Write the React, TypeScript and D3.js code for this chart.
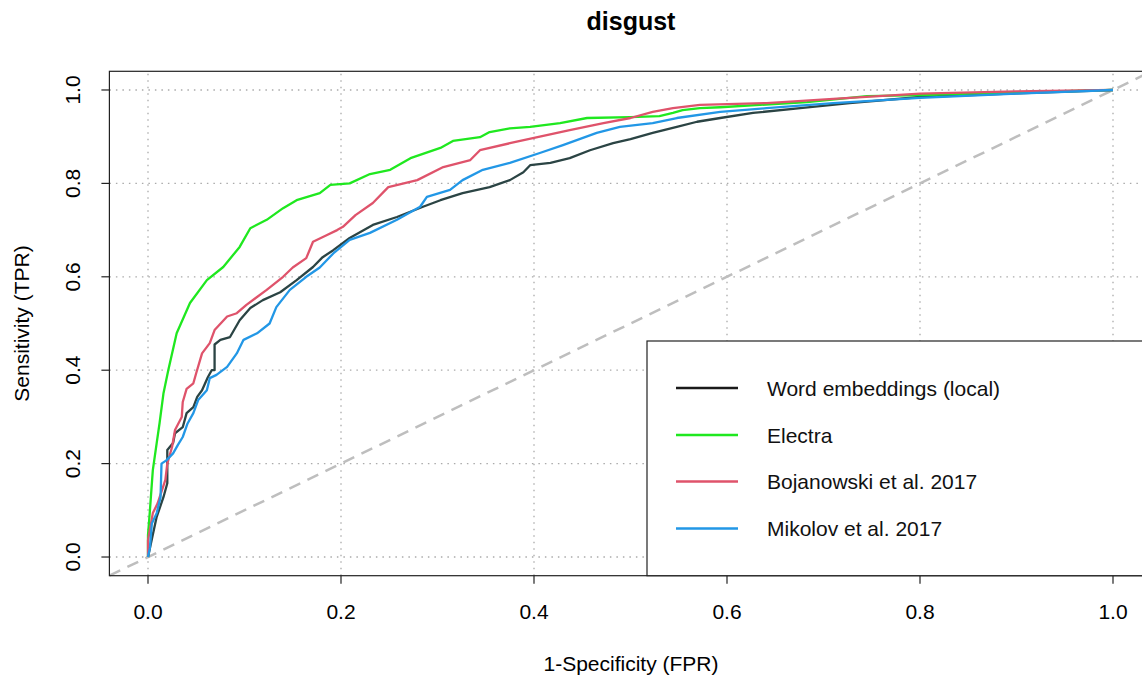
import React from "react";
import * as d3 from "d3";

const W = 1142;
const H = 683;

const title = "disgust";
const xLabel = "1-Specificity (FPR)";
const yLabel = "Sensitivity (TPR)";
const ticks = [0, 0.2, 0.4, 0.6, 0.8, 1.0];

const localFpr = [0, 0.009, 0.016, 0.02, 0.02, 0.026, 0.028, 0.036, 0.04, 0.047, 0.051, 0.056, 0.062, 0.066, 0.069, 0.069, 0.075, 0.085, 0.095, 0.106, 0.119, 0.137, 0.154, 0.171, 0.181, 0.192, 0.209, 0.233, 0.258, 0.285, 0.303, 0.326, 0.354, 0.375, 0.389, 0.396, 0.417, 0.437, 0.458, 0.482, 0.5, 0.523, 0.548, 0.569, 0.593, 0.627, 0.676, 0.727, 0.8, 0.9, 1];
const localTpr = [0, 0.086, 0.128, 0.158, 0.229, 0.244, 0.265, 0.278, 0.308, 0.321, 0.343, 0.357, 0.385, 0.4, 0.4, 0.455, 0.465, 0.471, 0.507, 0.533, 0.55, 0.567, 0.593, 0.621, 0.642, 0.657, 0.683, 0.711, 0.728, 0.75, 0.764, 0.779, 0.792, 0.807, 0.824, 0.839, 0.844, 0.854, 0.871, 0.886, 0.895, 0.908, 0.921, 0.932, 0.94, 0.951, 0.961, 0.972, 0.985, 0.993, 1];

const electraFpr = [0, 0, 0.002, 0.005, 0.009, 0.012, 0.016, 0.021, 0.0297, 0.0435, 0.061, 0.078, 0.095, 0.106, 0.123, 0.14, 0.154, 0.178, 0.189, 0.209, 0.23, 0.251, 0.272, 0.303, 0.316, 0.344, 0.354, 0.375, 0.396, 0.427, 0.455, 0.5, 0.53, 0.544, 0.554, 0.572, 0.593, 0.683, 0.745, 0.8, 0.9, 1];
const electraTpr = [0, 0.047, 0.1, 0.186, 0.244, 0.287, 0.35, 0.4, 0.479, 0.544, 0.593, 0.621, 0.664, 0.704, 0.722, 0.747, 0.764, 0.779, 0.797, 0.8, 0.82, 0.829, 0.854, 0.876, 0.891, 0.899, 0.91, 0.918, 0.921, 0.929, 0.94, 0.942, 0.944, 0.951, 0.957, 0.961, 0.963, 0.974, 0.987, 0.989, 0.995, 1];

const bojFpr = [0, 0, 0.005, 0.01, 0.018, 0.02, 0.025, 0.028, 0.035, 0.036, 0.04, 0.047, 0.05, 0.056, 0.064, 0.069, 0.082, 0.092, 0.102, 0.123, 0.14, 0.15, 0.164, 0.171, 0.185, 0.196, 0.202, 0.215, 0.233, 0.249, 0.279, 0.306, 0.334, 0.344, 0.375, 0.406, 0.437, 0.472, 0.5, 0.523, 0.544, 0.572, 0.641, 0.71, 0.8, 0.9, 1];
const bojTpr = [0, 0.036, 0.094, 0.115, 0.165, 0.2, 0.236, 0.272, 0.3, 0.332, 0.36, 0.372, 0.394, 0.436, 0.458, 0.486, 0.515, 0.522, 0.54, 0.572, 0.6, 0.62, 0.64, 0.675, 0.689, 0.7, 0.707, 0.732, 0.758, 0.792, 0.807, 0.835, 0.85, 0.871, 0.886, 0.9, 0.914, 0.929, 0.94, 0.953, 0.961, 0.968, 0.972, 0.981, 0.992, 0.997, 1];

const mikFpr = [0, 0.002, 0.004, 0.009, 0.013, 0.014, 0.019, 0.026, 0.031, 0.036, 0.041, 0.047, 0.052, 0.061, 0.064, 0.071, 0.082, 0.092, 0.099, 0.113, 0.126, 0.133, 0.147, 0.164, 0.178, 0.192, 0.209, 0.23, 0.258, 0.282, 0.289, 0.313, 0.326, 0.347, 0.375, 0.406, 0.43, 0.465, 0.489, 0.523, 0.548, 0.593, 0.641, 0.71, 0.8, 0.9, 1];
const mikTpr = [0, 0.02, 0.072, 0.094, 0.128, 0.2, 0.207, 0.222, 0.24, 0.257, 0.286, 0.308, 0.336, 0.357, 0.383, 0.39, 0.407, 0.436, 0.465, 0.479, 0.5, 0.535, 0.572, 0.6, 0.62, 0.65, 0.679, 0.694, 0.722, 0.75, 0.771, 0.786, 0.807, 0.829, 0.844, 0.865, 0.882, 0.908, 0.921, 0.929, 0.94, 0.953, 0.961, 0.972, 0.983, 0.992, 1];

const seriesNames = ["Word embeddings (local)", "Electra", "Bojanowski et al. 2017", "Mikolov et al. 2017"];
const seriesColors = ["#2b4444", "#1fe81f", "#df536b", "#2297e6"];
const legendColors = ["#1a1a1a", "#1fe81f", "#df536b", "#2297e6"];
const seriesFpr = [localFpr, electraFpr, bojFpr, mikFpr];
const seriesTpr = [localTpr, electraTpr, bojTpr, mikTpr];

const FONT = "'Liberation Sans', Arial, Helvetica, sans-serif";

export default function App() {
  const x = d3.scaleLinear().domain([-0.04, 1.04]).range([109.4, 1151.6]);
  const y = d3.scaleLinear().domain([-0.04, 1.04]).range([575.7, 71.3]);
  const line = d3
    .line<[number, number]>()
    .x((d) => x(d[0]))
    .y((d) => y(d[1]));

  const [x0, x1] = x.range();
  const [yb, yt] = y.range();

  const legend = { left: 647, top: 341, rows: [388, 435, 481.5, 528.5] };

  return (
    <svg
      width={W}
      height={H}
      style={{ position: "absolute", left: 0, top: 0, display: "block", background: "#fff" }}
      fontFamily={FONT}
    >
      <rect x={0} y={0} width={W} height={H} fill="#fff" />
      <text x={631} y={30} textAnchor="middle" fontSize={25} fontWeight="bold" fill="#000">
        {title}
      </text>
      {/* grid */}
      {ticks.map((t) => (
        <g key={"g" + t}>
          <line x1={x(t)} x2={x(t)} y1={yb} y2={yt} stroke="#aaaaaa" strokeWidth={1.3} strokeDasharray="1.5 5" />
          <line x1={x0} x2={x1} y1={y(t)} y2={y(t)} stroke="#aaaaaa" strokeWidth={1.3} strokeDasharray="1.5 5" />
        </g>
      ))}
      {/* diagonal */}
      <line
        x1={x(-0.04)}
        y1={y(-0.04)}
        x2={x(1.04)}
        y2={y(1.04)}
        stroke="#bebebe"
        strokeWidth={2.5}
        strokeDasharray="12 8"
      />
      {/* curves */}
      {seriesNames.map((n, i) => {
        const pts: [number, number][] = seriesFpr[i].map((f, k) => [f, seriesTpr[i][k]]);
        return (
          <path key={n} d={line(pts) || ""} fill="none" stroke={seriesColors[i]} strokeWidth={2.3} strokeLinejoin="round" />
        );
      })}
      {/* box */}
      <rect x={x0} y={yt} width={x1 - x0} height={yb - yt} fill="none" stroke="#222" strokeWidth={1.2} />
      {/* x axis */}
      {ticks.map((t) => (
        <g key={"xt" + t}>
          <line x1={x(t)} x2={x(t)} y1={yb} y2={yb + 8} stroke="#222" strokeWidth={1.2} />
          <text x={x(t)} y={619} textAnchor="middle" fontSize={21} fill="#000">
            {t.toFixed(1)}
          </text>
        </g>
      ))}
      <text x={631} y={671} textAnchor="middle" fontSize={21} fill="#000">
        {xLabel}
      </text>
      {/* y axis */}
      {ticks.map((t) => (
        <g key={"yt" + t}>
          <line x1={x0} x2={x0 - 8} y1={y(t)} y2={y(t)} stroke="#222" strokeWidth={1.2} />
          <text
            transform={`translate(80,${y(t)}) rotate(-90)`}
            textAnchor="middle"
            fontSize={21}
            fill="#000"
          >
            {t.toFixed(1)}
          </text>
        </g>
      ))}
      <text transform={`translate(29,${(yb + yt) / 2}) rotate(-90)`} textAnchor="middle" fontSize={21} fill="#000">
        {yLabel}
      </text>
      {/* legend */}
      <rect x={legend.left} y={legend.top} width={W + 20 - legend.left} height={yb - legend.top} fill="#fff" stroke="#222" strokeWidth={1.2} />
      {seriesNames.map((n, i) => (
        <g key={"lg" + n}>
          <line x1={676} x2={738} y1={legend.rows[i]} y2={legend.rows[i]} stroke={legendColors[i]} strokeWidth={2.5} />
          <text x={767} y={legend.rows[i] + 7.5} fontSize={21} fill="#111">
            {n}
          </text>
        </g>
      ))}
    </svg>
  );
}
